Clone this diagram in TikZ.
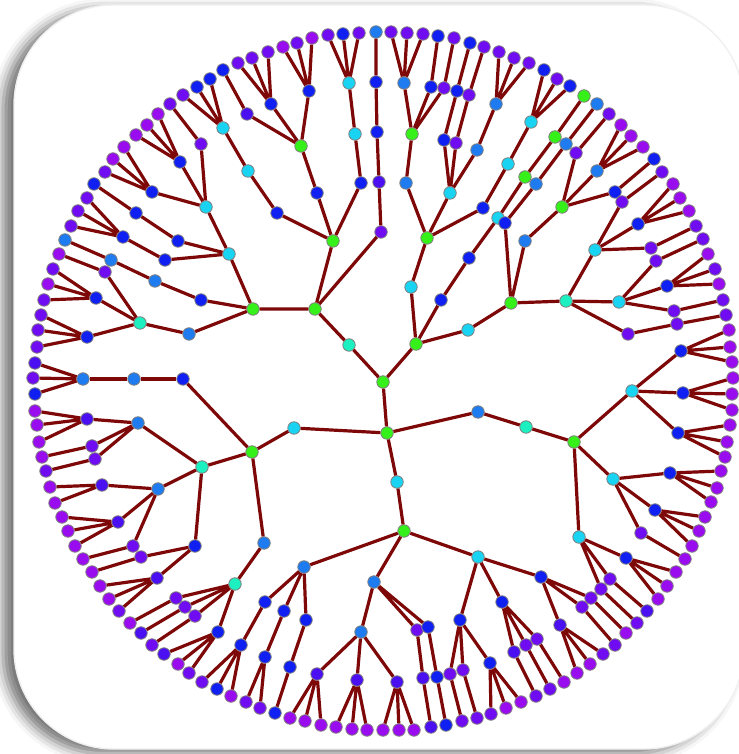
\documentclass[tikz,border=0pt]{standalone}
\usepackage{tikz}
\usetikzlibrary{shadows.blur}
\definecolor{twigred}{HTML}{7E0808}
\definecolor{vgreen}{HTML}{36F01A}
\definecolor{vteal}{HTML}{1CF0C0}
\definecolor{vcyan}{HTML}{18D4F2}
\definecolor{vlblue}{HTML}{1E7CF0}
\definecolor{vblue}{HTML}{1020F2}
\definecolor{vindigo}{HTML}{4A10F2}
\definecolor{vviolet}{HTML}{700CF2}
\definecolor{vpurple}{HTML}{9A0CF0}
\tikzset{
	vtx/.style={circle, draw=black!50, line width=0.08mm, inner sep=0pt, minimum size=1.25mm, fill=#1}
}
\tikzset{
	twig/.style={draw=twigred, line width=0.32mm}
}
\tikzset{
	card/.style={fill=white, draw=black!6, rounded corners=10mm,
			blur shadow={shadow xshift=-1.1mm, shadow yshift=-0.45mm, shadow blur radius=1.1mm, shadow opacity=55}}
}

\begin{document}
\begin{tikzpicture}[x=0.1mm, y=-0.1mm]

			\useasboundingbox (0,0) rectangle (738,754);
			\path[card] (14,5) rectangle (744,749);

			% centre and first rings
			\begin{scope}
				\node[vtx=vgreen] (r) at (383,382) {};
				\node[vtx=vteal] (c) at (349,345) {};
				\node[vtx=vgreen] (f) at (416,344) {};
				\node[vtx=vgreen] (b) at (387,433) {};
				\node[vtx=vgreen] (d) at (315,309) {};
				\node[vtx=vgreen] (e) at (253,309) {};
			\end{scope}

			% upper left
			\begin{scope}
				\node[vtx=vgreen] (d1) at (333,241) {};
				\node[vtx=vblue] (d1a) at (317,193) {};
				\node[vtx=vblue] (d1b) at (361,183) {};
				\node[vtx=vblue] (d1c) at (277,213) {};
				\node[vtx=vviolet] (d2) at (381,232) {};
				\node[vtx=vindigo] (d2a) at (379,182) {};
				\node[vtx=vblue] (d2b) at (377,132) {};
				\node[vtx=vblue] (d2c) at (376,82) {};
				\node[vtx=vgreen] (d1a1) at (301,146) {};
				\node[vtx=vblue] (u1) at (271,104) {};
				\node[vtx=vblue] (u2) at (309,91) {};
				\node[vtx=vindigo] (u3) at (247,114) {};
				\node[vtx=vcyan] (d1b1) at (355,134) {};
				\node[vtx=vcyan] (d1b2) at (349,83) {};
				\node[vtx=vcyan] (d1c1) at (248,171) {};
				\node[vtx=vcyan] (d1c2) at (223,128) {};

				\node[vtx=vcyan] (e1) at (229,254) {};
				\node[vtx=vblue] (e2) at (201,300) {};
				\node[vtx=vlblue] (e3) at (189,334) {};
				\node[vtx=vcyan] (e1a) at (206,207) {};
				\node[vtx=vblue] (e1b) at (178,241) {};
				\node[vtx=vblue] (e1c) at (165,260) {};
				\node[vtx=vviolet] (v1) at (201,144) {};
				\node[vtx=vblue] (v2) at (180,162) {};
				\node[vtx=vblue] (v3) at (152,192) {};
				\node[vtx=vblue] (e1b1) at (136,213) {};
				\node[vtx=vblue] (e1c1) at (123,237) {};
				\node[vtx=vlblue] (e2a) at (155,281) {};
				\node[vtx=vlblue] (e2b) at (111,260) {};
				\node[vtx=vteal] (e3a) at (140,323) {};
				\node[vtx=vviolet] (w1) at (105,272) {};
				\node[vtx=vblue] (w2) at (96,298) {};
				\node[vtx=vblue] (w3) at (87,337) {};
			\end{scope}

			% lower half
			\begin{scope}
				\node[vtx=vlblue] (k) at (478,412) {};
				\node[vtx=vcyan] (h1) at (294,428) {};
				\node[vtx=vcyan] (n) at (397,482) {};
				\node[vtx=vgreen] (m) at (252,452) {};
				\node[vtx=vblue] (m1) at (183,379) {};
				\node[vtx=vlblue] (m1a) at (134,379) {};
				\node[vtx=vlblue] (m1b) at (83,379) {};
				\node[vtx=vteal] (m2) at (202,467) {};
				\node[vtx=vlblue] (m3) at (264,543) {};
				\node[vtx=vlblue] (m2a) at (138,423) {};
				\node[vtx=vlblue] (m2b) at (158,489) {};
				\node[vtx=vblue] (m2c) at (195,546) {};
				\node[vtx=vindigo] (x1) at (87,419) {};
				\node[vtx=vviolet] (x2) at (92,446) {};
				\node[vtx=vviolet] (x3) at (95,459) {};
				\node[vtx=vindigo] (x4) at (102,485) {};
				\node[vtx=vindigo] (x5) at (118,522) {};
				\node[vtx=vviolet] (x6) at (133,546) {};
				\node[vtx=vviolet] (x7) at (141,557) {};
				\node[vtx=vindigo] (x8) at (157,578) {};
				\node[vtx=vteal] (m3a) at (235,584) {};
				\node[vtx=vviolet] (y1) at (176,598) {};
				\node[vtx=vviolet] (y2) at (185,607) {};
				\node[vtx=vviolet] (y3) at (195,616) {};
				\node[vtx=vblue] (y4) at (218,632) {};

				\node[vtx=vgreen] (n1) at (404,531) {};
				\node[vtx=vlblue] (n1a) at (304,567) {};
				\node[vtx=vlblue] (n1b) at (374,582) {};
				\node[vtx=vcyan] (n1c) at (478,557) {};
				\node[vtx=vblue] (s1) at (265,602) {};
				\node[vtx=vblue] (s2) at (284,611) {};
				\node[vtx=vblue] (s3) at (306,620) {};
				\node[vtx=vblue] (s1a) at (241,645) {};
				\node[vtx=vblue] (s2a) at (265,657) {};
				\node[vtx=vblue] (s3a) at (290,667) {};
				\node[vtx=vlblue] (t1) at (361,632) {};
				\node[vtx=vviolet] (t2) at (417,630) {};
				\node[vtx=vblue] (t3) at (428,627) {};
				\node[vtx=vindigo] (t1a) at (317,674) {};
				\node[vtx=vindigo] (t1b) at (357,680) {};
				\node[vtx=vindigo] (t1c) at (397,682) {};
				\node[vtx=vindigo] (t2a) at (423,678) {};
				\node[vtx=vblue] (t3a) at (437,677) {};
				\node[vtx=vblue] (q1) at (541,577) {};
				\node[vtx=vblue] (q2) at (502,602) {};
				\node[vtx=vblue] (q3) at (460,620) {};
				\node[vtx=vviolet] (q1a) at (591,598) {};
				\node[vtx=vviolet] (q1b) at (582,607) {};
				\node[vtx=vindigo] (q1c) at (560,625) {};
				\node[vtx=vviolet] (q2a) at (537,639) {};
				\node[vtx=vviolet] (q2b) at (526,645) {};
				\node[vtx=vindigo] (q2c) at (514,652) {};
				\node[vtx=vviolet] (q3a) at (450,674) {};
				\node[vtx=vviolet] (q3b) at (463,670) {};
				\node[vtx=vblue] (q3c) at (490,663) {};

				\node[vtx=vteal] (k1) at (526,427) {};
				\node[vtx=vgreen] (k2) at (574,442) {};
				\node[vtx=vcyan] (g1) at (632,391) {};
				\node[vtx=vcyan] (g2) at (613,479) {};
				\node[vtx=vcyan] (g3) at (579,537) {};
				\node[vtx=vblue] (g1a) at (681,351) {};
				\node[vtx=vblue] (g1b) at (683,393) {};
				\node[vtx=vblue] (g1c) at (678,433) {};
				\node[vtx=vblue] (g2a) at (670,473) {};
				\node[vtx=vblue] (g2b) at (655,510) {};
				\node[vtx=vviolet] (g2c) at (641,533) {};
				\node[vtx=vblue] (g3a) at (626,558) {};
				\node[vtx=vviolet] (g3b) at (610,579) {};
				\node[vtx=vviolet] (g3c) at (601,589) {};
			\end{scope}

			% upper right
			\begin{scope}
				\node[vtx=vcyan] (f1) at (411,287) {};
				\node[vtx=vblue] (f2) at (441,300) {};
				\node[vtx=vcyan] (f3) at (468,330) {};
				\node[vtx=vgreen] (f1a) at (427,238) {};
				\node[vtx=vlblue] (f1a1) at (406,183) {};
				\node[vtx=vcyan] (f1a2) at (450,193) {};
				\node[vtx=vblue] (f1a3) at (483,208) {};
				\node[vtx=vgreen] (o1) at (412,134) {};
				\node[vtx=vlblue] (o1a) at (404,83) {};
				\node[vtx=vblue] (o1b) at (431,87) {};
				\node[vtx=vviolet] (o1c) at (444,88) {};
				\node[vtx=vblue] (o2) at (444,140) {};
				\node[vtx=vviolet] (o3) at (456,143) {};
				\node[vtx=vlblue] (o4) at (477,150) {};
				\node[vtx=vblue] (o2a) at (457,91) {};
				\node[vtx=vviolet] (o3a) at (469,95) {};
				\node[vtx=vlblue] (o4a) at (496,104) {};
				\node[vtx=vcyan] (o5) at (508,164) {};
				\node[vtx=vcyan] (o5a) at (531,122) {};
				\node[vtx=vblue] (f2a) at (469,258) {};
				\node[vtx=vcyan] (f2b) at (498,218) {};
				\node[vtx=vgreen] (f2c) at (525,177) {};
				\node[vtx=vgreen] (f2d) at (555,137) {};
				\node[vtx=vgreen] (f3a) at (511,303) {};
				\node[vtx=vblue] (p1) at (505,223) {};
				\node[vtx=vlblue] (p1a) at (536,184) {};
				\node[vtx=vlblue] (p1b) at (566,144) {};
				\node[vtx=vlblue] (p2) at (525,241) {};
				\node[vtx=vgreen] (p2a) at (562,207) {};
				\node[vtx=vviolet] (p2b) at (576,153) {};
				\node[vtx=vlblue] (p2c) at (597,171) {};
				\node[vtx=vblue] (p2d) at (615,192) {};
				\node[vtx=vteal] (p3) at (566,301) {};
				\node[vtx=vcyan] (p3a) at (595,250) {};
				\node[vtx=vcyan] (p3b) at (619,302) {};
				\node[vtx=vviolet] (p3c) at (628,334) {};
				\node[vtx=vviolet] (z1) at (622,202) {};
				\node[vtx=vblue] (z2) at (638,224) {};
				\node[vtx=vviolet] (z3) at (651,248) {};
				\node[vtx=vviolet] (z4) at (656,261) {};
				\node[vtx=vblue] (z5) at (667,286) {};
				\node[vtx=vviolet] (z6) at (674,311) {};
				\node[vtx=vviolet] (z7) at (677,324) {};
			\end{scope}

			% outer ring
			\begin{scope}
				\node[vtx=vlblue] (l1) at (376,32) {};
				\node[vtx=vviolet] (l2) at (359,33) {};
				\node[vtx=vblue] (l3) at (343,34) {};
				\node[vtx=vviolet] (l4) at (328,35) {};
				\node[vtx=vpurple] (l5) at (312,38) {};
				\node[vtx=vviolet] (l6) at (297,43) {};
				\node[vtx=vpurple] (l7) at (283,47) {};
				\node[vtx=vviolet] (l8) at (268,52) {};
				\node[vtx=vviolet] (l9) at (252,58) {};
				\node[vtx=vviolet] (l10) at (238,63) {};
				\node[vtx=vblue] (l11) at (223,70) {};
				\node[vtx=vblue] (l12) at (210,79) {};
				\node[vtx=vblue] (l13) at (197,87) {};
				\node[vtx=vviolet] (l14) at (183,95) {};
				\node[vtx=vviolet] (l15) at (170,104) {};
				\node[vtx=vpurple] (l16) at (158,114) {};
				\node[vtx=vpurple] (l17) at (147,125) {};
				\node[vtx=vpurple] (l18) at (136,135) {};
				\node[vtx=vpurple] (l19) at (124,147) {};
				\node[vtx=vpurple] (l20) at (113,159) {};
				\node[vtx=vviolet] (l21) at (105,172) {};
				\node[vtx=vblue] (l22) at (94,184) {};
				\node[vtx=vviolet] (l23) at (87,198) {};
				\node[vtx=vviolet] (l24) at (78,211) {};
				\node[vtx=vviolet] (l25) at (71,226) {};
				\node[vtx=vlblue] (l26) at (65,240) {};
				\node[vtx=vpurple] (l27) at (59,254) {};
				\node[vtx=vviolet] (l28) at (53,269) {};
				\node[vtx=vpurple] (l29) at (48,284) {};
				\node[vtx=vviolet] (l30) at (44,300) {};
				\node[vtx=vviolet] (l31) at (41,315) {};
				\node[vtx=vviolet] (l32) at (38,330) {};
				\node[vtx=vviolet] (l33) at (37,347) {};
				\node[vtx=vindigo] (l34) at (35,363) {};
				\node[vtx=vviolet] (l35) at (33,378) {};
				\node[vtx=vblue] (l36) at (35,394) {};
				\node[vtx=vpurple] (l37) at (35,411) {};
				\node[vtx=vpurple] (l38) at (37,425) {};
				\node[vtx=vpurple] (l39) at (39,442) {};
				\node[vtx=vpurple] (l40) at (42,457) {};
				\node[vtx=vviolet] (l41) at (46,471) {};
				\node[vtx=vpurple] (l42) at (50,487) {};
				\node[vtx=vpurple] (l43) at (55,503) {};
				\node[vtx=vpurple] (l44) at (62,517) {};
				\node[vtx=vpurple] (l45) at (68,531) {};
				\node[vtx=vpurple] (l46) at (75,546) {};
				\node[vtx=vpurple] (l47) at (83,559) {};
				\node[vtx=vpurple] (l48) at (92,572) {};
				\node[vtx=vpurple] (l49) at (100,586) {};
				\node[vtx=vpurple] (l50) at (109,599) {};
				\node[vtx=vviolet] (l51) at (119,611) {};
				\node[vtx=vpurple] (l52) at (130,623) {};
				\node[vtx=vindigo] (l53) at (141,633) {};
				\node[vtx=vviolet] (l54) at (152,645) {};
				\node[vtx=vindigo] (l55) at (164,654) {};
				\node[vtx=vpurple] (l56) at (178,664) {};
				\node[vtx=vviolet] (l57) at (189,673) {};
				\node[vtx=vviolet] (l58) at (202,682) {};
				\node[vtx=vblue] (l59) at (217,689) {};
				\node[vtx=vpurple] (l60) at (231,696) {};
				\node[vtx=vviolet] (l61) at (246,702) {};
				\node[vtx=vviolet] (l62) at (260,708) {};
				\node[vtx=vblue] (l63) at (275,713) {};
				\node[vtx=vpurple] (l64) at (290,718) {};
				\node[vtx=vpurple] (l65) at (305,721) {};
				\node[vtx=vpurple] (l66) at (321,725) {};
				\node[vtx=vpurple] (l67) at (336,727) {};
				\node[vtx=vpurple] (l68) at (352,729) {};
				\node[vtx=vpurple] (l69) at (367,730) {};
				\node[vtx=vpurple] (l70) at (383,730) {};
				\node[vtx=vpurple] (l71) at (399,730) {};
				\node[vtx=vpurple] (l72) at (414,730) {};
				\node[vtx=vindigo] (l73) at (431,727) {};
				\node[vtx=vblue] (l74) at (446,725) {};
				\node[vtx=vviolet] (l75) at (462,721) {};
				\node[vtx=vviolet] (l76) at (477,718) {};
				\node[vtx=vviolet] (l77) at (491,714) {};
				\node[vtx=vpurple] (l78) at (506,708) {};
				\node[vtx=vpurple] (l79) at (521,702) {};
				\node[vtx=vviolet] (l80) at (536,696) {};
				\node[vtx=vviolet] (l81) at (550,689) {};
				\node[vtx=vpurple] (l82) at (564,682) {};
				\node[vtx=vpurple] (l83) at (577,673) {};
				\node[vtx=vpurple] (l84) at (590,664) {};
				\node[vtx=vviolet] (l85) at (603,654) {};
				\node[vtx=vviolet] (l86) at (615,645) {};
				\node[vtx=vpurple] (l87) at (626,633) {};
				\node[vtx=vviolet] (l88) at (637,623) {};
				\node[vtx=vindigo] (l89) at (647,611) {};
				\node[vtx=vpurple] (l90) at (658,599) {};
				\node[vtx=vpurple] (l91) at (667,586) {};
				\node[vtx=vpurple] (l92) at (676,572) {};
				\node[vtx=vpurple] (l93) at (685,559) {};
				\node[vtx=vpurple] (l94) at (692,546) {};
				\node[vtx=vpurple] (l95) at (699,531) {};
				\node[vtx=vpurple] (l96) at (705,517) {};
				\node[vtx=vpurple] (l97) at (711,502) {};
				\node[vtx=vpurple] (l98) at (717,488) {};
				\node[vtx=vpurple] (l99) at (721,471) {};
				\node[vtx=vpurple] (l100) at (725,457) {};
				\node[vtx=vpurple] (l101) at (727,442) {};
				\node[vtx=vpurple] (l102) at (730,425) {};
				\node[vtx=vpurple] (l103) at (732,410) {};
				\node[vtx=vpurple] (l104) at (732,394) {};
				\node[vtx=vpurple] (l105) at (733,378) {};
				\node[vtx=vpurple] (l106) at (732,362) {};
				\node[vtx=vpurple] (l107) at (730,347) {};
				\node[vtx=vpurple] (l108) at (729,330) {};
				\node[vtx=vviolet] (l109) at (726,315) {};
				\node[vtx=vviolet] (l110) at (723,300) {};
				\node[vtx=vpurple] (l111) at (719,284) {};
				\node[vtx=vviolet] (l112) at (715,269) {};
				\node[vtx=vpurple] (l113) at (708,254) {};
				\node[vtx=vviolet] (l114) at (703,239) {};
				\node[vtx=vviolet] (l115) at (696,226) {};
				\node[vtx=vpurple] (l116) at (689,211) {};
				\node[vtx=vpurple] (l117) at (680,198) {};
				\node[vtx=vpurple] (l118) at (673,184) {};
				\node[vtx=vviolet] (l119) at (662,172) {};
				\node[vtx=vblue] (l120) at (654,159) {};
				\node[vtx=vpurple] (l121) at (643,147) {};
				\node[vtx=vpurple] (l122) at (631,136) {};
				\node[vtx=vpurple] (l123) at (621,125) {};
				\node[vtx=vviolet] (l124) at (609,114) {};
				\node[vtx=vlblue] (l125) at (597,104) {};
				\node[vtx=vgreen] (l126) at (584,96) {};
				\node[vtx=vblue] (l127) at (570,86) {};
				\node[vtx=vviolet] (l128) at (557,79) {};
				\node[vtx=vblue] (l129) at (544,70) {};
				\node[vtx=vviolet] (l130) at (529,63) {};
				\node[vtx=vviolet] (l131) at (514,58) {};
				\node[vtx=vviolet] (l132) at (499,52) {};
				\node[vtx=vviolet] (l133) at (484,47) {};
				\node[vtx=vblue] (l134) at (470,43) {};
				\node[vtx=vviolet] (l135) at (454,38) {};
				\node[vtx=vblue] (l136) at (438,36) {};
				\node[vtx=vviolet] (l137) at (423,34) {};
				\node[vtx=vviolet] (l138) at (407,33) {};
				\node[vtx=vviolet] (l139) at (391,32) {};
			\end{scope}

			% branches
			\begin{scope}[twig]
				\draw (r) -- (c) (r) -- (f) (r) -- (b);
				\draw (c) -- (d) (d) -- (e) (d) -- (d1) (d) -- (d2);
				\draw (d1) -- (d1a) (d1) -- (d1b) (d1) -- (d1c);
				\draw (d2) -- (d2a) -- (d2b) -- (d2c) -- (l1);
				\draw (d1a) -- (d1a1) (d1a1) -- (u1) (d1a1) -- (u2) (d1a1) -- (u3);
				\draw (u1) -- (l8) (u1) -- (l9) (u1) -- (l10);
				\draw (u2) -- (l5) (u2) -- (l6) (u2) -- (l7);
				\draw (u3) -- (l11);
				\draw (d1b) -- (d1b1) -- (d1b2);
				\draw (d1b2) -- (l2) (d1b2) -- (l3) (d1b2) -- (l4);
				\draw (d1c) -- (d1c1) -- (d1c2);
				\draw (d1c2) -- (l12) (d1c2) -- (l13) (d1c2) -- (l14);

				\draw (e) -- (e1) (e) -- (e2) (e) -- (e3);
				\draw (e1) -- (e1a) (e1) -- (e1b) (e1) -- (e1c);
				\draw (e1a) -- (v1) (e1a) -- (v2) (e1a) -- (v3);
				\draw (v1) -- (l15);
				\draw (v2) -- (l16) (v2) -- (l17) (v2) -- (l18);
				\draw (v3) -- (l19) (v3) -- (l20) (v3) -- (l21);
				\draw (e1b) -- (e1b1) -- (l22);
				\draw (e1c) -- (e1c1);
				\draw (e1c1) -- (l23) (e1c1) -- (l24) (e1c1) -- (l25);
				\draw (e2) -- (e2a) -- (e2b) -- (l26);
				\draw (e3) -- (e3a);
				\draw (e3a) -- (w1) (e3a) -- (w2) (e3a) -- (w3);
				\draw (w1) -- (l27);
				\draw (w2) -- (l28) (w2) -- (l29) (w2) -- (l30);
				\draw (w3) -- (l31) (w3) -- (l32) (w3) -- (l33);

				\draw (b) -- (k) (b) -- (h1) (b) -- (n);
				\draw (h1) -- (m);
				\draw (m) -- (m1) (m) -- (m2) (m) -- (m3);
				\draw (m1) -- (m1a) -- (m1b);
				\draw (m1b) -- (l34) (m1b) -- (l35) (m1b) -- (l36);
				\draw (m2) -- (m2a) (m2) -- (m2b) (m2) -- (m2c);
				\draw (m2a) -- (x1) (m2a) -- (x2) (m2a) -- (x3);
				\draw (x1) -- (l37) (x1) -- (l38) (x1) -- (l39);
				\draw (x2) -- (l40);
				\draw (x3) -- (l41);
				\draw (m2b) -- (x4) (m2b) -- (x5) (m2b) -- (x6);
				\draw (x4) -- (l42) (x4) -- (l43);
				\draw (x5) -- (l44) (x5) -- (l45) (x5) -- (l46);
				\draw (x6) -- (l47);
				\draw (m2c) -- (x7) (m2c) -- (x8);
				\draw (x7) -- (l48);
				\draw (x8) -- (l49) (x8) -- (l50) (x8) -- (l51);
				\draw (m3) -- (m3a);
				\draw (m3a) -- (y1) (m3a) -- (y2) (m3a) -- (y3) (m3a) -- (y4);
				\draw (y1) -- (l52);
				\draw (y2) -- (l53);
				\draw (y3) -- (l54);
				\draw (y4) -- (l55) (y4) -- (l56) (y4) -- (l57);

				\draw (n) -- (n1);
				\draw (n1) -- (n1a) (n1) -- (n1b) (n1) -- (n1c);
				\draw (n1a) -- (s1) (n1a) -- (s2) (n1a) -- (s3);
				\draw (s1) -- (s1a) (s2) -- (s2a) (s3) -- (s3a);
				\draw (s1a) -- (l58) (s1a) -- (l59) (s1a) -- (l60);
				\draw (s2a) -- (l61) (s2a) -- (l62);
				\draw (s3a) -- (l63);
				\draw (n1b) -- (t1) (n1b) -- (t2) (n1b) -- (t3);
				\draw (t1) -- (t1a) (t1) -- (t1b) (t1) -- (t1c);
				\draw (t1a) -- (l64) (t1a) -- (l65) (t1a) -- (l66);
				\draw (t1b) -- (l67) (t1b) -- (l68) (t1b) -- (l69);
				\draw (t1c) -- (l70) (t1c) -- (l71) (t1c) -- (l72);
				\draw (t2) -- (t2a) -- (l73);
				\draw (t3) -- (t3a) -- (l74);
				\draw (n1c) -- (q1) (n1c) -- (q2) (n1c) -- (q3);
				\draw (q3) -- (q3a) (q3) -- (q3b) (q3) -- (q3c);
				\draw (q3a) -- (l75);
				\draw (q3b) -- (l76);
				\draw (q3c) -- (l77) (q3c) -- (l78) (q3c) -- (l79);
				\draw (q2) -- (q2a) (q2) -- (q2b) (q2) -- (q2c);
				\draw (q2c) -- (l80);
				\draw (q2b) -- (l81);
				\draw (q2a) -- (l82);
				\draw (q1) -- (q1a) (q1) -- (q1b) (q1) -- (q1c);
				\draw (q1c) -- (l83) (q1c) -- (l84) (q1c) -- (l85);
				\draw (q1b) -- (l86);
				\draw (q1a) -- (l87);

				\draw (k) -- (k1) -- (k2);
				\draw (k2) -- (g1) (k2) -- (g2) (k2) -- (g3);
				\draw (g3) -- (g3a) (g3) -- (g3b) (g3) -- (g3c);
				\draw (g3c) -- (l88);
				\draw (g3b) -- (l89);
				\draw (g3a) -- (l90) (g3a) -- (l91) (g3a) -- (l92);
				\draw (g2) -- (g2a) (g2) -- (g2b) (g2) -- (g2c);
				\draw (g2c) -- (l93);
				\draw (g2b) -- (l94) (g2b) -- (l95) (g2b) -- (l96);
				\draw (g2a) -- (l97) (g2a) -- (l98) (g2a) -- (l99);
				\draw (g1) -- (g1a) (g1) -- (g1b) (g1) -- (g1c);
				\draw (g1c) -- (l100) (g1c) -- (l101) (g1c) -- (l102);
				\draw (g1b) -- (l103) (g1b) -- (l104) (g1b) -- (l105);
				\draw (g1a) -- (l106) (g1a) -- (l107) (g1a) -- (l108);

				\draw (f) -- (f1) (f) -- (f2) (f) -- (f3);
				\draw (f1) -- (f1a);
				\draw (f1a) -- (f1a1) (f1a) -- (f1a2) (f1a) -- (f1a3);
				\draw (f1a1) -- (o1);
				\draw (o1) -- (o1a) (o1) -- (o1b) (o1) -- (o1c);
				\draw (o1a) -- (l137) (o1a) -- (l138) (o1a) -- (l139);
				\draw (o1b) -- (l136);
				\draw (o1c) -- (l135);
				\draw (f1a2) -- (o2) (f1a2) -- (o3) (f1a2) -- (o4);
				\draw (o2) -- (o2a) -- (l134);
				\draw (o3) -- (o3a) -- (l133);
				\draw (o4) -- (o4a);
				\draw (o4a) -- (l130) (o4a) -- (l131) (o4a) -- (l132);
				\draw (f1a3) -- (o5) -- (o5a);
				\draw (o5a) -- (l127) (o5a) -- (l128) (o5a) -- (l129);
				\draw (f2) -- (f2a) -- (f2b) -- (f2c) -- (f2d) -- (l126);
				\draw (f3) -- (f3a);
				\draw (f3a) -- (p1) (f3a) -- (p2) (f3a) -- (p3);
				\draw (p1) -- (p1a) -- (p1b) -- (l125);
				\draw (p2) -- (p2a);
				\draw (p2a) -- (p2b) (p2a) -- (p2c) (p2a) -- (p2d);
				\draw (p2b) -- (l124);
				\draw (p2c) -- (l121) (p2c) -- (l122) (p2c) -- (l123);
				\draw (p2d) -- (l120);
				\draw (p3) -- (p3a) (p3) -- (p3b) (p3) -- (p3c);
				\draw (p3a) -- (z1) (p3a) -- (z2) (p3a) -- (z3);
				\draw (z1) -- (l119);
				\draw (z2) -- (l116) (z2) -- (l117) (z2) -- (l118);
				\draw (z3) -- (l115);
				\draw (p3b) -- (z4) (p3b) -- (z5) (p3b) -- (z6);
				\draw (z4) -- (l114);
				\draw (z5) -- (l111) (z5) -- (l112) (z5) -- (l113);
				\draw (z6) -- (l110);
				\draw (p3c) -- (z7) -- (l109);
			\end{scope}

		\end{tikzpicture}
\end{document}
